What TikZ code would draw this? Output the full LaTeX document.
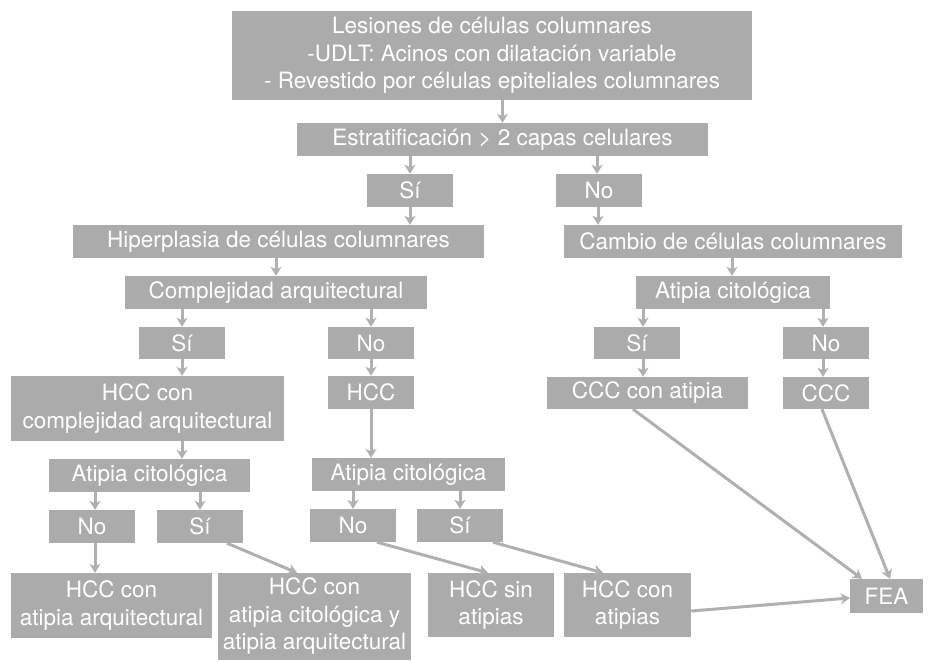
\documentclass[tikz,border=0pt]{standalone}
\usepackage{fontspec}
\setmainfont{TeX Gyre Heros}
\usetikzlibrary{arrows.meta}
\definecolor{boxgray}{RGB}{171,171,171}
\definecolor{arrgray}{RGB}{176,176,176}
\tikzset{
  box/.style={fill=boxgray, draw=none, text=white, inner sep=0pt, align=center,
    font=\fontsize{22.5pt}{27.5pt}\selectfont},
  conn/.style={draw=arrgray, line width=3pt, -{Stealth[length=9pt,width=11pt,inset=2.5pt]}}
}
\begin{document}
\begin{tikzpicture}[x=1pt,y=-1pt]
\useasboundingbox (0,0) rectangle (928,661);
% nodes
\node[box, minimum width=520pt, minimum height=89pt] (top) at (492,55.5) {Lesiones de células columnares\\-UDLT: Acinos con dilatación variable\\- Revestido por células epiteliales columnares};
\node[box, minimum width=411pt, minimum height=33pt] (estr) at (502.5,139.5) {Estratificación > 2 capas celulares};
\node[box, minimum width=86pt, minimum height=33pt] (si1) at (410,190.5) {Sí};
\node[box, minimum width=86pt, minimum height=33pt] (no1) at (599,190.5) {No};
\node[box, minimum width=411pt, minimum height=33pt] (hip) at (278.5,241.5) {Hiperplasia de células columnares};
\node[box, minimum width=338pt, minimum height=33pt] (cam) at (733,241.5) {Cambio de células columnares};
\node[box, minimum width=302pt, minimum height=33pt] (comp) at (276,292.5) {Complejidad arquitectural};
\node[box, minimum width=194pt, minimum height=33pt] (atR) at (733,292.5) {Atipia citológica};
\node[box, minimum width=86pt, minimum height=32pt] (si2) at (182,343) {Sí};
\node[box, minimum width=86pt, minimum height=32pt] (no2) at (371,343) {No};
\node[box, minimum width=86pt, minimum height=32pt] (siR) at (637,343) {Sí};
\node[box, minimum width=86pt, minimum height=32pt] (noR) at (826,343) {No};
\node[box, minimum width=273pt, minimum height=65pt] (hccc) at (147.5,408.5) {HCC con\\complejidad arquitectural};
\node[box, minimum width=86pt, minimum height=33pt] (hcc) at (371,392.5) {HCC};
\node[box, minimum width=201pt, minimum height=32pt] (ccca) at (647.5,393) {CCC con atipia};
\node[box, minimum width=86pt, minimum height=32pt] (ccc) at (826,393) {CCC};
\node[box, minimum width=201pt, minimum height=33pt] (atL) at (149.5,475.5) {Atipia citológica};
\node[box, minimum width=193pt, minimum height=33pt] (atM) at (408.5,474.5) {Atipia citológica};
\node[box, minimum width=86pt, minimum height=33pt] (noL) at (92,526.5) {No};
\node[box, minimum width=86pt, minimum height=33pt] (siL) at (200,526.5) {Sí};
\node[box, minimum width=86pt, minimum height=33pt] (noM) at (353,525.5) {No};
\node[box, minimum width=86pt, minimum height=33pt] (siM) at (460,525.5) {Sí};
\node[box, minimum width=201pt, minimum height=65pt] (b1) at (111.5,605.5) {HCC con\\atipia arquitectural};
\node[box, minimum width=193pt, minimum height=87pt] (b2) at (314.5,616.5) {HCC con\\atipia citológica y\\atipia arquitectural};
\node[box, minimum width=126pt, minimum height=64pt] (b3) at (491,605) {HCC sin\\atipias};
\node[box, minimum width=127pt, minimum height=64pt] (b4) at (627.5,605) {HCC con\\atipias};
\node[box, minimum width=73pt, minimum height=34pt] (fea) at (886.5,596) {FEA};
% connectors
\draw[conn] (estr.north |- top.south) -- (estr.north);
\draw[conn] (si1.north |- estr.south) -- (si1.north);
\draw[conn] ([xshift=-2pt]no1.north |- estr.south) -- ([xshift=-2pt]no1.north);
\draw[conn] (si1.south) -- (si1.south |- hip.north);
\draw[conn] ([xshift=-1pt]no1.south) -- ([xshift=-1pt]no1.south |- cam.north);
\draw[conn] (comp.north |- hip.south) -- (comp.north);
\draw[conn] ([xshift=-1pt]atR.north |- cam.south) -- ([xshift=-1pt]atR.north);
\draw[conn] (si2.north |- comp.south) -- (si2.north);
\draw[conn] (no2.north |- comp.south) -- (no2.north);
\draw[conn] ([xshift=6pt]siR.north |- atR.south) -- ([xshift=6pt]siR.north);
\draw[conn] ([xshift=-3pt]noR.north |- atR.south) -- ([xshift=-3pt]noR.north);
\draw[conn] (si2.south) -- (si2.south |- hccc.north);
\draw[conn] (no2.south) -- (hcc.north);
\draw[conn] ([xshift=6pt]siR.south) -- ([xshift=6pt]siR.south |- ccca.north);
\draw[conn] ([xshift=-3pt]noR.south) -- ([xshift=-3pt]ccc.north);
\draw[conn] (si2.south |- hccc.south) -- (si2.south |- atL.north);
\draw[conn] (hcc.south) -- (hcc.south |- atM.north);
\draw[conn] ([xshift=3pt]noL.north |- atL.south) -- ([xshift=3pt]noL.north);
\draw[conn] (siL.north |- atL.south) -- (siL.north);
\draw[conn] (noM.north |- atM.south) -- (noM.north);
\draw[conn] (siM.north |- atM.south) -- (siM.north);
\draw[conn] ([xshift=3pt]noL.south) -- ([xshift=3pt]noL.south |- b1.north);
\draw[conn] ([xshift=27pt]siL.south) -- ([xshift=-17.5pt]b2.north);
\draw[conn] ([xshift=24pt]noM.south) -- ([xshift=-3pt]b3.north);
\draw[conn] ([xshift=33pt]siM.south) -- ([xshift=-24.5pt]b4.north);
\draw[conn] ([yshift=-6pt]b4.east) -- ([yshift=-2pt]fea.west);
\draw[conn] ([xshift=-14.5pt]ccca.south) -- ([xshift=-24.5pt]fea.north);
\draw[conn] ([xshift=-4pt]ccc.south) -- ([xshift=3.5pt]fea.north);
\end{tikzpicture}
\end{document}
